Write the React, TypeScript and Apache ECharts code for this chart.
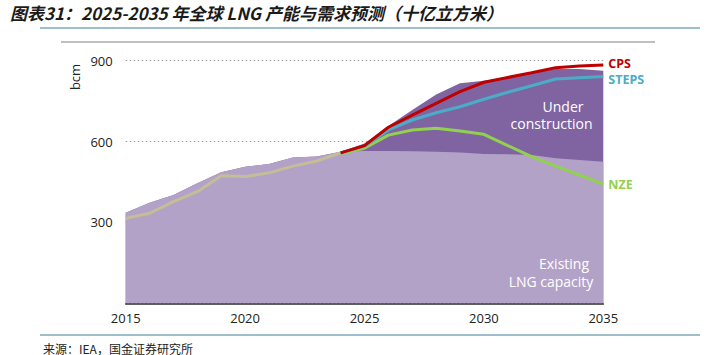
import React, { useEffect, useRef } from "react";
import * as echarts from "echarts";

const histYears = [2015, 2016, 2017, 2018, 2019, 2020, 2021, 2022, 2023, 2024];
const histDemand = [315, 334, 377, 414, 473, 470, 484, 509, 528, 558];

const capYears = [2015, 2016, 2017, 2018, 2019, 2020, 2021, 2022, 2023, 2024, 2025, 2026, 2027, 2028, 2029, 2030, 2031, 2032, 2033, 2034, 2035];
const existingCap = [336, 373, 402, 445, 486, 507, 517, 541, 545, 562, 565, 565, 564, 562, 559, 554, 553, 550, 538, 532, 525];
const totalCap = [336, 373, 402, 445, 486, 507, 517, 541, 545, 562, 593, 658, 717, 775, 816, 826, 838, 853, 869, 869, 863];

const projYears = [2024, 2025, 2026, 2027, 2028, 2029, 2030, 2031, 2032, 2033, 2034, 2035];
const cps = [558, 585, 653, 698, 742, 785, 820, 838, 855, 874, 880, 884];
const steps = [558, 583, 643, 680, 707, 729, 757, 783, 807, 832, 837, 841];
const nze = [556, 575, 624, 643, 649, 639, 627, 585, 544, 509, 476, 442];

const yTicks = [300, 600, 900];
const xTicks = [2015, 2020, 2025, 2030, 2035];

const FONT = "'Open Sans', 'Noto Sans', sans-serif";

export default function App() {
  const ref = useRef<HTMLDivElement>(null);
  useEffect(() => {
    if (!ref.current) return;
    const chart = echarts.init(ref.current, null, { renderer: "svg" });
    const pairs = (xs: number[], ys: number[]) => xs.map((x, i) => [x, ys[i]]);
    const endLabel = (text: string, color: string, dy: number) => ({
      show: true,
      formatter: text,
      color,
      fontWeight: "bold",
      fontSize: 12.5,
      fontFamily: FONT,
      distance: 5,
      offset: [0, dy],
    });
    chart.setOption({
      animation: false,
      grid: { left: 125.7, right: 115.7, top: 60.7, bottom: 51.7 },
      xAxis: {
        type: "value",
        min: 2015,
        max: 2035,
        interval: 5,
        axisLine: { show: true, lineStyle: { color: "#2b2b2b", width: 1.5 } },
        axisTick: { show: false },
        splitLine: { show: false },
        axisLabel: {
          margin: 8,
          color: "#222",
          fontSize: 13,
          fontFamily: FONT,
          formatter: (v: number) => (xTicks.includes(v) ? String(v) : ""),
        },
      },
      yAxis: {
        type: "value",
        min: 0,
        max: 900,
        interval: 300,
        axisLine: { show: false },
        axisTick: { show: false },
        splitLine: { show: true, lineStyle: { color: "#9a9a9a", type: [1.5, 2.5], width: 1 } },
        axisLabel: {
          margin: 13,
          color: "#222",
          fontSize: 13,
          fontFamily: FONT,
          formatter: (v: number) => (yTicks.includes(v) ? String(v) : ""),
        },
      },
      series: [
        {
          type: "line",
          name: "total",
          data: pairs(capYears, totalCap),
          symbol: "none",
          lineStyle: { width: 0 },
          areaStyle: { color: "#8064a2", opacity: 1 },
          z: 1,
        },
        {
          type: "line",
          name: "existing",
          data: pairs(capYears, existingCap),
          symbol: "none",
          lineStyle: { width: 0 },
          areaStyle: { color: "#b3a2c7", opacity: 1 },
          z: 2,
        },
        {
          type: "line",
          name: "hist",
          data: pairs(histYears, histDemand),
          symbol: "none",
          lineStyle: { color: "#c4bd97", width: 3 },
          z: 3,
        },
        {
          type: "line",
          name: "NZE",
          data: pairs(projYears, nze),
          symbol: "none",
          lineStyle: { color: "#92d050", width: 3 },
          endLabel: endLabel("NZE", "#92d050", 0),
          z: 4,
        },
        {
          type: "line",
          name: "STEPS",
          data: pairs(projYears, steps),
          symbol: "none",
          lineStyle: { color: "#4bacc6", width: 3 },
          endLabel: endLabel("STEPS", "#4bacc6", 2.5),
          z: 5,
        },
        {
          type: "line",
          name: "CPS",
          data: pairs(projYears, cps),
          symbol: "none",
          lineStyle: { color: "#c00000", width: 3 },
          endLabel: endLabel("CPS", "#c00000", -1.5),
          z: 6,
        },
      ],
      graphic: [
        {
          type: "text",
          left: 10,
          top: 4,
          style: {
            text: "图表31：2025-2035 年全球 LNG 产能与需求预测（十亿立方米）",
            fontSize: 17,
            fontWeight: "bold",
            fontStyle: "italic",
            fontFamily: "'Noto Sans CJK SC', sans-serif",
            fill: "#1a1a1a",
          },
        },
        { type: "line", shape: { x1: 40, y1: 28, x2: 700, y2: 28 }, style: { stroke: "#7fa9ba", lineWidth: 1.5 } },
        { type: "line", shape: { x1: 61, y1: 42, x2: 655, y2: 42 }, style: { stroke: "#ababab", lineWidth: 1.5 } },
        { type: "line", shape: { x1: 40, y1: 335, x2: 700, y2: 335 }, style: { stroke: "#7fa9ba", lineWidth: 1.5 } },
        {
          type: "text",
          x: 75,
          y: 77,
          rotation: Math.PI / 2,
          style: { text: "bcm", fontSize: 13, fontFamily: FONT, fill: "#222", align: "center", verticalAlign: "middle" },
        },
        {
          type: "text",
          x: 563,
          y: 106,
          style: { text: "Under", fontSize: 14, fontFamily: FONT, fill: "#ffffff", align: "center", verticalAlign: "middle" },
          z: 10,
        },
        {
          type: "text",
          x: 551.5,
          y: 123.5,
          style: { text: "construction", fontSize: 14, fontFamily: FONT, fill: "#ffffff", align: "center", verticalAlign: "middle" },
          z: 10,
        },
        {
          type: "text",
          x: 564,
          y: 263.5,
          style: { text: "Existing", fontSize: 14, fontFamily: FONT, fill: "#ffffff", align: "center", verticalAlign: "middle" },
          z: 10,
        },
        {
          type: "text",
          x: 551,
          y: 281,
          style: { text: "LNG capacity", fontSize: 14, fontFamily: FONT, fill: "#ffffff", align: "center", verticalAlign: "middle" },
          z: 10,
        },
        {
          type: "text",
          x: 43,
          y: 348,
          style: {
            text: "来源：IEA，国金证券研究所",
            fontSize: 12,
            fontFamily: "'Noto Sans CJK SC', sans-serif",
            fill: "#222",
            verticalAlign: "middle",
          },
        },
      ],
    });
    return () => chart.dispose();
  }, []);
  return (
    <div
      ref={ref}
      style={{ position: "fixed", left: 0, top: 0, width: 719, height: 355, background: "#fff" }}
    />
  );
}
